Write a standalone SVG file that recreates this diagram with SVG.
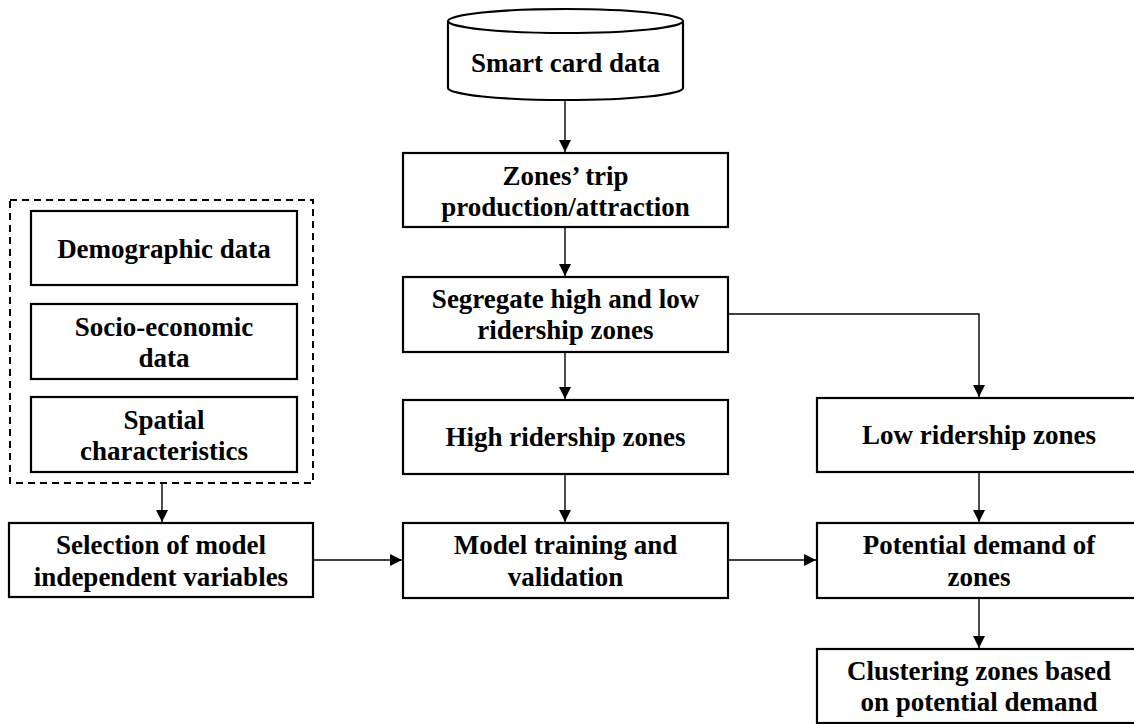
<svg xmlns="http://www.w3.org/2000/svg" width="1134" height="724" viewBox="0 0 1134 724">
<defs>
<style>
.box{fill:#fff;stroke:#000;stroke-width:2.2}
.t{font-weight:bold;font-size:27px;fill:#000;text-anchor:middle}
.c{fill:none;stroke:#000;stroke-width:1.4}
</style>
<marker id="ah" markerUnits="userSpaceOnUse" markerWidth="14" markerHeight="14" refX="12" refY="6" orient="auto">
<path d="M0,0 L12,6 L0,12 Z" fill="#000"/>
</marker>
</defs>
<rect width="1134" height="724" fill="#fff"/>

<g id="connectors">
<line class="c" x1="565" y1="100" x2="565" y2="152" marker-end="url(#ah)"/>
<line class="c" x1="565" y1="228" x2="565" y2="276" marker-end="url(#ah)"/>
<line class="c" x1="565" y1="353" x2="565" y2="399" marker-end="url(#ah)"/>
<line class="c" x1="565" y1="475" x2="565" y2="522" marker-end="url(#ah)"/>
<polyline class="c" points="729,314 979,314 979,397" marker-end="url(#ah)"/>
<line class="c" x1="979" y1="473" x2="979" y2="522" marker-end="url(#ah)"/>
<line class="c" x1="979" y1="599" x2="979" y2="648" marker-end="url(#ah)"/>
<line class="c" x1="162" y1="484" x2="162" y2="522" marker-end="url(#ah)"/>
<line class="c" x1="314" y1="560" x2="402" y2="560" marker-end="url(#ah)"/>
<line class="c" x1="729" y1="560" x2="816" y2="560" marker-end="url(#ah)"/>
</g>

<g font-family="Liberation Serif, DejaVu Serif, serif">
<g id="smart-card-data">
<path class="box" d="M448,21 L448,88 A117.5,12 0 0 0 683,88 L683,21"/>
<ellipse class="box" cx="565.5" cy="21" rx="117.5" ry="12"/>
<text class="t" x="565.5" y="72">Smart card data</text>
</g>

<g id="zones-trip">
<rect class="box" x="403" y="153" width="325" height="74"/>
<text class="t" x="565.5" y="185">Zones’ trip</text>
<text class="t" x="565.5" y="216">production/attraction</text>
</g>

<g id="segregate">
<rect class="box" x="403" y="277" width="325" height="75"/>
<text class="t" x="565.5" y="308">Segregate high and low</text>
<text class="t" x="565.5" y="339">ridership zones</text>
</g>

<g id="high-ridership">
<rect class="box" x="403" y="400" width="325" height="74"/>
<text class="t" x="565.5" y="446">High ridership zones</text>
</g>

<g id="model-training">
<rect class="box" x="403" y="523" width="325" height="75"/>
<text class="t" x="565.5" y="554">Model training and</text>
<text class="t" x="565.5" y="586">validation</text>
</g>

<g id="low-ridership">
<rect class="box" x="817" y="398" width="325" height="74"/>
<text class="t" x="979" y="444">Low ridership zones</text>
</g>

<g id="potential-demand">
<rect class="box" x="817" y="523" width="325" height="75"/>
<text class="t" x="979" y="554">Potential demand of</text>
<text class="t" x="979" y="586">zones</text>
</g>

<g id="clustering">
<rect class="box" x="817" y="649" width="325" height="74"/>
<text class="t" x="979" y="680">Clustering zones based</text>
<text class="t" x="979" y="711">on potential demand</text>
</g>

<g id="data-group">
<rect x="10" y="200" width="303" height="283" fill="none" stroke="#000" stroke-width="2" stroke-dasharray="7,5"/>
</g>

<g id="demographic">
<rect class="box" x="31" y="211" width="266" height="74"/>
<text class="t" x="164" y="258">Demographic data</text>
</g>

<g id="socio-economic">
<rect class="box" x="31" y="304" width="266" height="75"/>
<text class="t" x="164" y="336">Socio-economic</text>
<text class="t" x="164" y="367">data</text>
</g>

<g id="spatial">
<rect class="box" x="31" y="397" width="266" height="75"/>
<text class="t" x="164" y="429">Spatial</text>
<text class="t" x="164" y="460">characteristics</text>
</g>

<g id="selection">
<rect class="box" x="9" y="523" width="304" height="74"/>
<text class="t" x="161" y="554">Selection of model</text>
<text class="t" x="161" y="586">independent variables</text>
</g>
</g>
</svg>
